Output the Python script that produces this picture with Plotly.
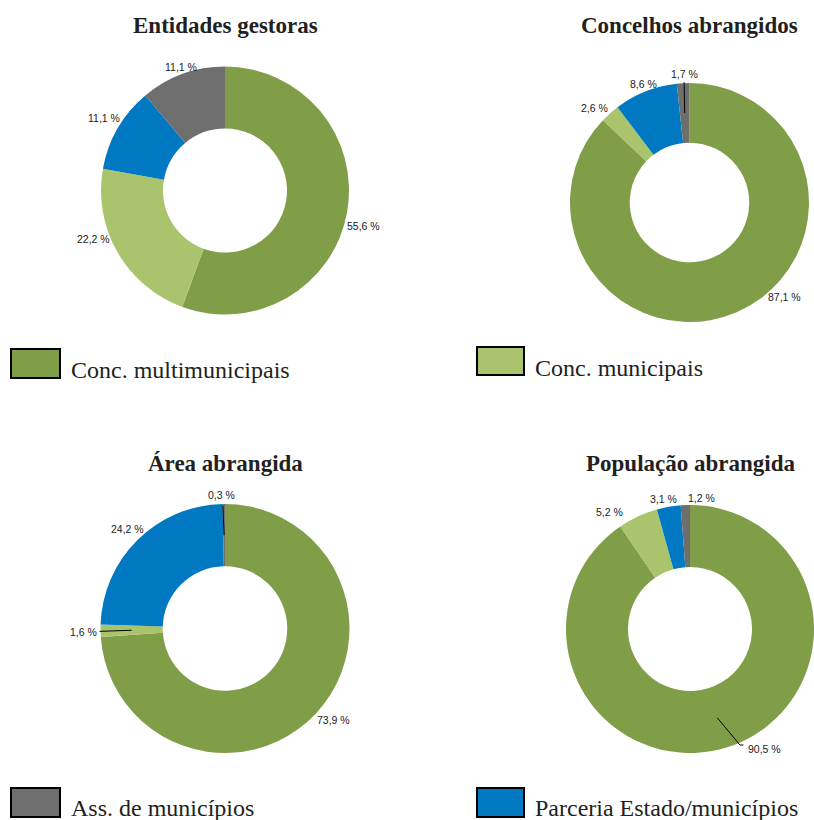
import math
import plotly.graph_objects as go

W, H = 814, 820

# Categories (shared by all four doughnuts) and their fill colours
categories = ["Conc. multimunicipais", "Conc. municipais",
              "Parceria Estado/municípios", "Ass. de municípios"]
colors = ["#809E48", "#AAC46D", "#0079C2", "#6E6E6E"]

# Chart titles
titles = ["Entidades gestoras", "Concelhos abrangidos",
          "Área abrangida", "População abrangida"]

# Shares (%) per category, same order as `categories`
entidades_gestoras = [55.6, 22.2, 11.1, 11.1]
concelhos_abrangidos = [87.1, 2.6, 8.6, 1.7]
area_abrangida = [73.9, 1.6, 24.2, 0.3]
populacao_abrangida = [90.5, 5.2, 3.1, 1.2]

series = [entidades_gestoras, concelhos_abrangidos, area_abrangida, populacao_abrangida]

# Order in which categories appear in the legend slots (TL, TR, BL, BR)
legend_order = [0, 1, 3, 2]

# Panel geometry in pixels: centre, outer radius, title centre y
panels = [
    dict(cx=225.0, cy=190.5, r=124.0, ty=25.5),
    dict(cx=689.5, cy=202.5, r=119.5, ty=25.5),
    dict(cx=225.0, cy=628.5, r=124.5, ty=464.0),
    dict(cx=690.0, cy=629.0, r=124.0, ty=464.0),
]

# Value-label nudges (px) from the outer edge at each slice's mid-angle
label_nudge = [
    [(16, 14), (-24, -13), (-14, -10), (-2, -7)],
    [(48, -15), (-15, -5), (-2.5, -7), (1.4, -9)],
    [(17.5, 7), (-17, 1), (-10.5, -11), (-2, -9.5)],
    [(38.5, 1), (-28, -4), (-4.7, -7.6), (15.7, -7.4)],
]

# Leader lines: end offset (px) from the outer edge point, plus a horizontal tick
leaders = [
    [None, None, None, None],
    [None, None, None, (1, -1, 0)],
    [None, (-1, 0.5, 0), None, (-1, 1.5, 0)],
    [(13.5, -2.5, 3.5), None, None, None],
]

# Legend boxes: (x0, y0, x1, y1) in px and text centre y
legend_boxes = [
    (11, 349, 60, 378, 370),
    (477, 347, 524, 375, 368),
    (11, 788, 60, 817, 808),
    (477, 788, 524, 817, 808),
]

HOLE = 0.5


def px(x):
    return x / W


def py(y):
    return 1 - y / H


def fmt(v):
    return f"{v:.1f}".replace(".", ",") + " %"


fig = go.Figure()
annotations = []
shapes = []

for k, (vals, p) in enumerate(zip(series, panels)):
    cx, cy, r = p["cx"], p["cy"], p["r"]
    fig.add_trace(go.Pie(
        labels=categories,
        values=vals,
        hole=HOLE,
        sort=False,
        direction="clockwise",
        rotation=0,
        marker=dict(colors=colors, line=dict(width=0)),
        textinfo="none",
        hoverinfo="label+percent",
        showlegend=False,
        domain=dict(x=[px(cx - r), px(cx + r)], y=[py(cy + r), py(cy - r)]),
    ))

    annotations.append(dict(
        x=px(cx), y=py(p["ty"]), xref="paper", yref="paper",
        text=f"<b>{titles[k]}</b>", showarrow=False,
        xanchor="center", yanchor="middle",
        font=dict(family="Liberation Serif", size=23, color="#231F20"),
    ))

    total = sum(vals)
    cum = 0.0
    r_mid = r * (1 + HOLE) / 2
    for i, v in enumerate(vals):
        mid = (cum + v / 2) / total * 2 * math.pi
        cum += v
        sx, sy = math.sin(mid), -math.cos(mid)
        ex, ey = cx + r * sx, cy + r * sy
        dx, dy = label_nudge[k][i]
        annotations.append(dict(
            x=px(ex + dx), y=py(ey + dy), xref="paper", yref="paper",
            text=fmt(v), showarrow=False,
            xanchor="center", yanchor="middle",
            font=dict(family="Liberation Sans", size=10.5, color="#1A1A1A"),
        ))
        ld = leaders[k][i]
        if ld is not None:
            lx, ly, tick = ld
            x0, y0 = cx + r_mid * sx, cy + r_mid * sy
            x1, y1 = ex + lx, ey + ly
            shapes.append(dict(type="line", xref="paper", yref="paper",
                               x0=px(x0), y0=py(y0), x1=px(x1), y1=py(y1),
                               line=dict(color="#000000", width=1)))
            if tick:
                shapes.append(dict(type="line", xref="paper", yref="paper",
                                   x0=px(x1), y0=py(y1), x1=px(x1 + tick), y1=py(y1),
                                   line=dict(color="#000000", width=1)))

# Legend: one coloured box with its label under each doughnut
for (x0, y0, x1, y1, ty), ci in zip(legend_boxes, legend_order):
    shapes.append(dict(type="rect", xref="paper", yref="paper",
                       x0=px(x0), y0=py(y1), x1=px(x1), y1=py(y0),
                       fillcolor=colors[ci], line=dict(color="#000000", width=2)))
    annotations.append(dict(
        x=px(x1 + 9), y=py(ty), xref="paper", yref="paper",
        text=categories[ci], showarrow=False, xanchor="left", yanchor="middle",
        font=dict(family="Liberation Serif", size=24, color="#231F20"),
    ))

fig.update_layout(
    width=W, height=H, autosize=False,
    margin=dict(l=0, r=0, t=0, b=0),
    paper_bgcolor="white", plot_bgcolor="white",
    annotations=annotations, shapes=shapes,
)

fig.write_html("out.html")
